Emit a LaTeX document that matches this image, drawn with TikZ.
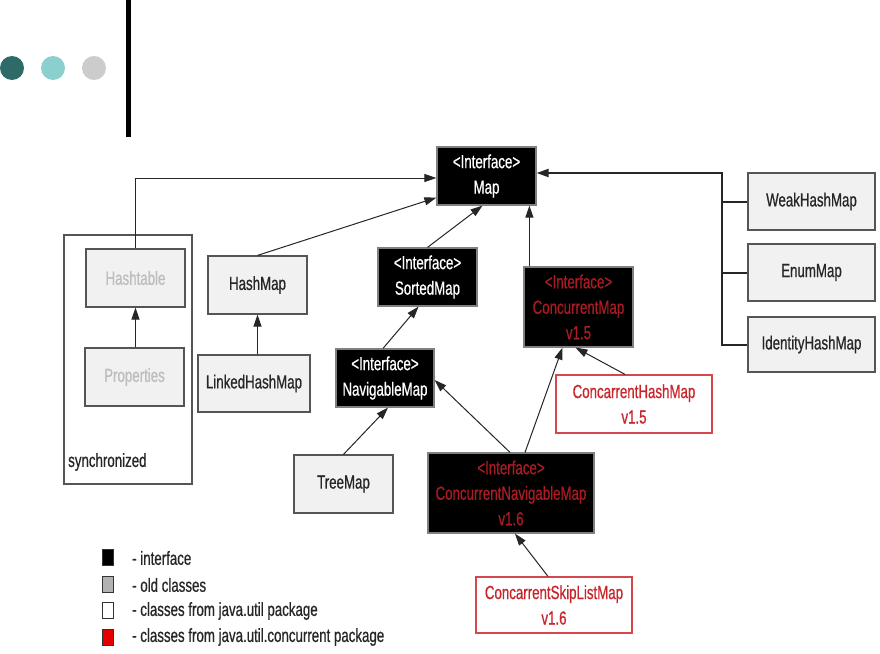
\documentclass[tikz,border=0pt]{standalone}
\usepackage{fontspec}
\setmainfont{Liberation Sans}[FakeStretch=0.70,FakeBold=0.6]
\usetikzlibrary{arrows.meta}
\definecolor{boxfill}{HTML}{F1F1F1}
\definecolor{boxline}{HTML}{555555}
\definecolor{oldtext}{HTML}{BDBDBD}
\definecolor{redtext}{HTML}{C8242B}
\definecolor{darkred}{HTML}{A81C22}
\definecolor{redline}{HTML}{D4484C}
\definecolor{tealdark}{HTML}{2E6B68}
\definecolor{teallight}{HTML}{8CCFCF}
\definecolor{dotgray}{HTML}{CCCCCC}
\tikzset{
  cls/.style={draw=boxline, fill=boxfill, line width=1.2pt, inner sep=0pt, align=center, text=black!85},
  old/.style={cls, text=oldtext},
  iface/.style={draw=gray, fill=black, line width=1.2pt, inner sep=0pt, align=center, text=white},
  riface/.style={iface, text=darkred},
  rcls/.style={draw=redline, fill=white, line width=1.2pt, inner sep=0pt, align=center, text=redtext},
  arr/.style={draw=black!85, line width=1pt, -{Triangle[length=12pt,width=8pt]}},
  bus/.style={draw=black!85, line width=2pt},
  legsq/.style={draw=black!80, line width=0.8pt, minimum width=11pt, minimum height=16pt, inner sep=0pt},
  legtxt/.style={anchor=west, inner sep=0pt, text=black!85}
}
\begin{document}
\begin{tikzpicture}[x=1pt,y=-1pt,font=\fontsize{19}{25.5}\selectfont]
\useasboundingbox[fill=white] (0,0) rectangle (880,653);
% decoration
\fill[tealdark] (12,68) circle (12);
\fill[teallight] (53,68) circle (12);
\fill[dotgray] (94,68) circle (12);
\draw[line width=5pt] (128,0) -- (128,137);
% synchronized group
\node[draw=boxline, line width=1.2pt, minimum width=128pt, minimum height=249pt, inner sep=0pt] (sync) at (128,359.5) {};
\node[anchor=west, inner sep=0pt, text=black!85] (synclbl) at (68,462) {synchronized};
% nodes
\node[iface, minimum width=99pt, minimum height=58pt] (map) at (486.5,176) {<Interface>\\Map};
\node[old, minimum width=99pt, minimum height=58pt] (hashtable) at (135.5,278) {Hashtable};
\node[old, minimum width=99pt, minimum height=58pt] (props) at (134.5,377) {Properties};
\node[cls, minimum width=99pt, minimum height=58pt] (hashmap) at (257.5,285) {HashMap};
\node[cls, minimum width=112pt, minimum height=57pt] (lhm) at (254,383.5) {LinkedHashMap};
\node[iface, minimum width=99pt, minimum height=58pt] (sorted) at (427.5,277) {<Interface>\\SortedMap};
\node[iface, minimum width=98pt, minimum height=58pt] (nav) at (385,378) {<Interface>\\NavigableMap};
\node[cls, minimum width=99pt, minimum height=58pt] (tree) at (343.5,484) {TreeMap};
\node[riface, minimum width=166pt, minimum height=80pt] (cnm) at (511,493) {<Interface>\\ConcurrentNavigableMap\\v1.6};
\node[rcls, minimum width=156pt, minimum height=56pt] (cslm) at (554,605) {ConcarrentSkipListMap\\v1.6};
\node[riface, minimum width=109pt, minimum height=80pt] (cm) at (578.5,307) {<Interface>\\ConcurrentMap\\v1.5};
\node[rcls, minimum width=156pt, minimum height=58pt] (chm) at (634,404) {ConcarrentHashMap\\v1.5};
\node[cls, minimum width=127pt, minimum height=57pt] (weak) at (811.5,201.5) {WeakHashMap};
\node[cls, minimum width=127pt, minimum height=57pt] (enum) at (811.5,272.5) {EnumMap};
\node[cls, minimum width=127pt, minimum height=55pt] (ident) at (811.5,344.5) {IdentityHashMap};
% connectors
\coordinate (bustop) at (722,173);
\draw[bus] (weak.west) -- (weak.west -| bustop);
\draw[bus] (enum.west) -- (enum.west -| bustop);
\draw[bus, -{Triangle[length=12pt,width=8pt]}] (ident.west) -| (bustop) -- (bustop -| map.east);
\draw[arr] (hashtable.north) |- ([yshift=-2pt]map.west);
\draw[arr] (props.north -| hashtable.south) -- (hashtable.south);
\draw[arr] (hashmap.north) -- ([yshift=8pt]map.south west);
\draw[arr] (lhm.north -| hashmap.south) -- (hashmap.south);
\draw[arr] (sorted.north) -- ([xshift=-4pt]map.south);
\draw[arr] ([xshift=6pt]cm.north west) -- ([xshift=6pt]cm.north west |- map.south);
\draw[arr] ([xshift=-2pt]nav.north) -- ([xshift=-9pt]sorted.south);
\draw[arr] (tree.north) -- ([xshift=3pt]nav.south);
\draw[arr] ([xshift=-1pt]cnm.north) -- ([yshift=-2pt]nav.east);
\draw[arr] ([xshift=14pt]cnm.north) -- ([xshift=-16pt]cm.south);
\draw[arr] ([xshift=-9pt]chm.north) -- ([xshift=-3pt]cm.south);
\draw[arr] ([xshift=-6pt]cslm.north) -- ([xshift=4pt]cnm.south);
% legend
\node[legsq, fill=black] (lg1) at (107.5,557) {};
\node[legsq, fill=gray!60] (lg2) at (107.5,584) {};
\node[legsq, fill=white] (lg3) at (107.5,610) {};
\node[legsq, fill=red!90!black] (lg4) at (107.5,637) {};
\node[legtxt] (lt1) at (132,558) {- interface};
\node[legtxt] (lt2) at (132,585) {- old classes};
\node[legtxt] (lt3) at (132,611) {- classes from java.util package};
\node[legtxt] (lt4) at (132,637) {- classes from java.util.concurrent package};
\end{tikzpicture}
\end{document}
